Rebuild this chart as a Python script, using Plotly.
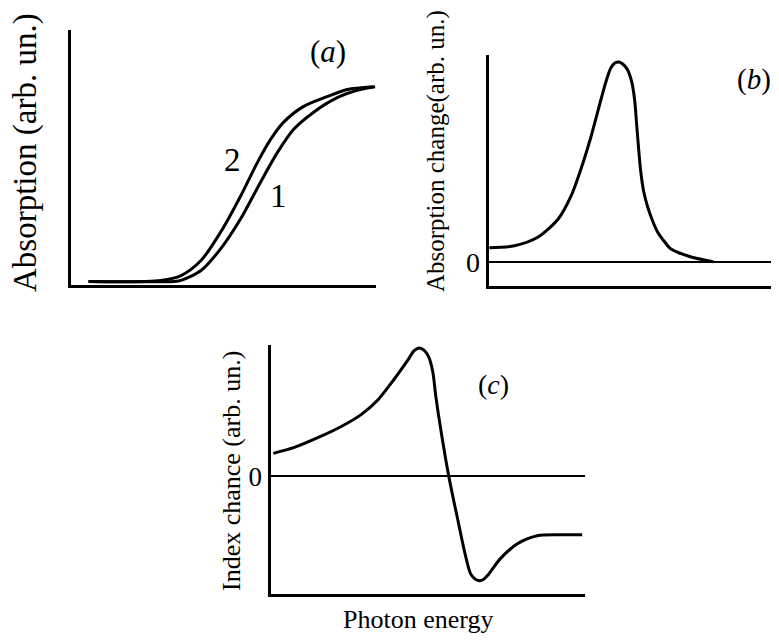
import plotly.graph_objects as go

W, H = 779, 640
FONT = "Liberation Serif, Times New Roman, serif"
OFF = 8  # page body margin of the browser
HL = 1.5  # half of the axis line width (Plotly draws axis lines outside the domain)

# ---- data ----
# (a) absorption edge, curves 1 and 2
a_x1 = [0.59, 3.39, 3.62, 4.27, 4.92, 5.57, 6.22, 6.78, 7.30, 7.95, 8.73, 9.48, 9.97]
a_y1 = [0.012, 0.012, 0.016, 0.055, 0.141, 0.258, 0.402, 0.520, 0.609, 0.676, 0.734, 0.766, 0.777]
a_x2 = [0.59, 2.96, 3.62, 4.27, 4.92, 5.57, 6.12, 6.55, 6.97, 7.62, 8.40, 9.06, 9.90]
a_y2 = [0.012, 0.016, 0.035, 0.094, 0.207, 0.348, 0.480, 0.570, 0.637, 0.699, 0.738, 0.766, 0.777]

# (b) absorption change
b_x = [0.03, 0.89, 1.71, 2.40, 2.84, 3.18, 3.53, 3.87, 4.04, 4.21, 4.35, 4.49, 4.62, 4.79,
       4.93, 5.03, 5.10, 5.17, 5.24, 5.34, 5.48, 5.65, 5.82, 6.06, 6.27, 6.95, 7.74]
b_y = [0.070, 0.080, 0.124, 0.214, 0.328, 0.463, 0.627, 0.811, 0.900, 0.970, 0.995, 1.0,
       0.990, 0.960, 0.900, 0.811, 0.687, 0.562, 0.453, 0.353, 0.274, 0.204, 0.149, 0.100,
       0.065, 0.025, 0.0]

# (c) index change
c_x = [0.09, 0.76, 1.52, 2.25, 2.88, 3.42, 3.92, 4.37, 4.56, 4.72, 4.87, 5.03, 5.16, 5.25,
       5.35, 5.57, 5.73, 5.95, 6.20, 6.36, 6.49, 6.61, 6.77, 6.90, 7.31, 7.85, 8.48, 9.21, 9.91]
c_y = [0.219, 0.276, 0.371, 0.476, 0.590, 0.733, 0.924, 1.114, 1.200, 1.229, 1.210, 1.143,
       1.000, 0.781, 0.571, 0.162, -0.095, -0.410, -0.762, -0.933, -0.981, -1.0, -0.990,
       -0.952, -0.790, -0.648, -0.571, -0.562, -0.562]


def px(x):
    return (x - OFF) / W


def py(y):
    return 1 - (y - OFF) / H


line = dict(color="black", width=3, shape="spline", smoothing=0.8)

fig = go.Figure()
fig.add_trace(go.Scatter(x=a_x1, y=a_y1, mode="lines", line=line, xaxis="x", yaxis="y"))
fig.add_trace(go.Scatter(x=a_x2, y=a_y2, mode="lines", line=line, xaxis="x", yaxis="y"))
fig.add_trace(go.Scatter(x=b_x, y=b_y, mode="lines", line=line, xaxis="x2", yaxis="y2"))
fig.add_trace(go.Scatter(x=c_x, y=c_y, mode="lines", line=line, xaxis="x3", yaxis="y3"))

ax_common = dict(showline=True, linecolor="black", linewidth=3, showgrid=False,
                 ticks="", fixedrange=True)

fig.update_layout(
    width=W, height=H,
    margin=dict(l=0, r=0, t=0, b=0),
    paper_bgcolor="white", plot_bgcolor="white",
    showlegend=False,
    font=dict(family=FONT, color="black"),
    xaxis=dict(domain=[px(69 + HL), px(376)], range=[0, 10], anchor="y",
               showticklabels=False, zeroline=False, **ax_common),
    yaxis=dict(domain=[py(286 - HL), py(30)], range=[0, 1], anchor="x",
               showticklabels=False, zeroline=False, **ax_common),
    xaxis2=dict(domain=[px(487 + HL), px(779)], range=[0, 10], anchor="y2",
                showticklabels=False, zeroline=False, **ax_common),
    yaxis2=dict(domain=[py(287 - HL), py(55)], range=[-0.119, 1.035], anchor="x2",
                tickvals=[0], ticktext=["0"], tickfont=dict(size=28, family=FONT),
                zeroline=True, zerolinecolor="black", zerolinewidth=2, **ax_common),
    xaxis3=dict(domain=[px(269 + HL), px(585)], range=[0, 10], anchor="y3",
                showticklabels=False, zeroline=False, **ax_common),
    yaxis3=dict(domain=[py(595 - HL), py(345)], range=[-1.124, 1.257], anchor="x3",
                tickvals=[0], ticktext=["0"], tickfont=dict(size=27, family=FONT),
                zeroline=True, zerolinecolor="black", zerolinewidth=2, **ax_common),
)


def ann(text, x, y, size, angle=0):
    fig.add_annotation(text=text, x=px(x), y=py(y), xref="paper", yref="paper",
                       showarrow=False, textangle=angle, xanchor="center", yanchor="middle",
                       font=dict(family=FONT, size=size, color="black"))


ann("Absorption (arb. un.)", 25, 153, 33, -90)
ann("Absorption change(arb. un.)", 436, 151, 25, -90)
ann("Index chance (arb. un.)", 231, 471, 26, -90)
ann("Photon energy", 418, 619, 26)
ann("(<i>a</i>)", 328, 52, 31)
ann("(<i>b</i>)", 754, 79, 29)
ann("(<i>c</i>)", 493, 384, 28)
ann("2", 233, 160, 33)
ann("1", 278, 196, 33)

fig.write_html("out.html")
